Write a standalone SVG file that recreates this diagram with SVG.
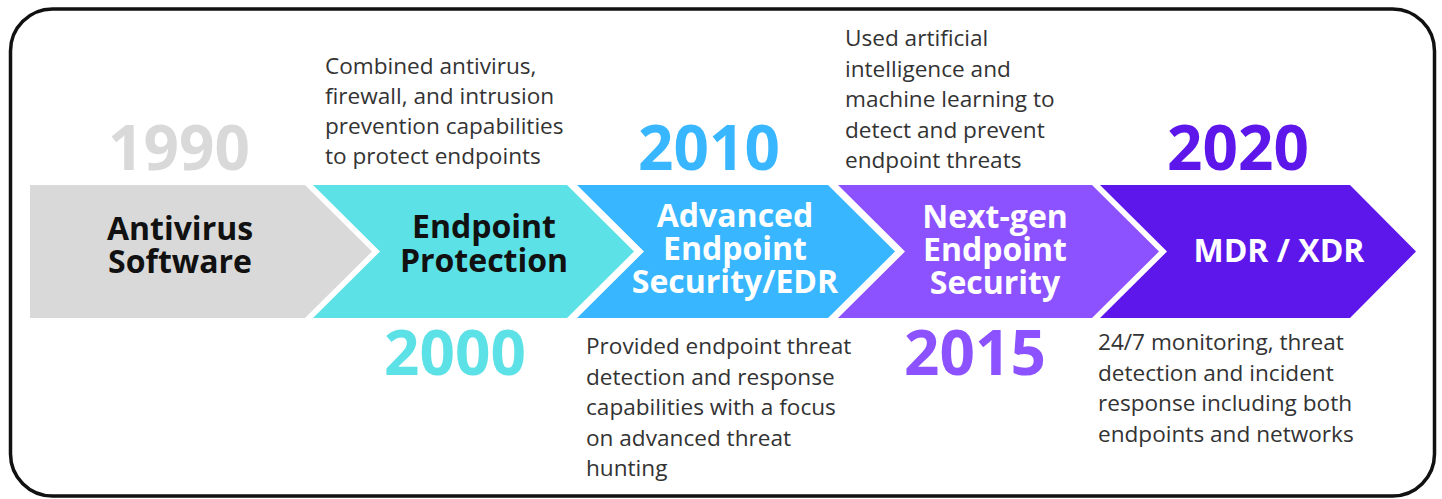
<svg xmlns="http://www.w3.org/2000/svg" width="1442" height="499" viewBox="0 0 1442 499">
<style>
.yr{font-family:"Open Sans","Liberation Sans",sans-serif;font-weight:700;font-size:62px;text-anchor:middle}
.lbl{font-family:"Open Sans","Liberation Sans",sans-serif;font-weight:700;font-size:32px;text-anchor:middle}
.desc{font-family:"Open Sans","Liberation Sans",sans-serif;font-size:22.6px;fill:#333333}
</style>
<rect x="10.5" y="9" width="1424" height="487" rx="42" fill="#ffffff" stroke="#111111" stroke-width="3.5"/>
<g id="connectors"></g>
<g id="stage-1990">
<polygon points="30,185 305,185 372,251.5 305,318 30,318" fill="#d9d9d9"/>
<text class="yr" x="179" y="170" fill="#d9d9d9">1990</text>
<text class="lbl" x="180" y="240" fill="#111111">Antivirus</text>
<text class="lbl" x="180" y="273" fill="#111111">Software</text>
</g>
<g id="stage-2000">
<polygon points="313,185 567,185 634,251.5 567,318 313,318 380,251.5" fill="#5ce1e6"/>
<text class="yr" x="455" y="375" fill="#5ce1e6">2000</text>
<text class="lbl" x="484" y="238" fill="#111111">Endpoint</text>
<text class="lbl" x="484" y="272" fill="#111111">Protection</text>
<text class="desc" x="325" y="74">Combined antivirus,</text>
<text class="desc" x="325" y="104">firewall, and intrusion</text>
<text class="desc" x="325" y="134">prevention capabilities</text>
<text class="desc" x="325" y="164">to protect endpoints</text>
</g>
<g id="stage-2010">
<polygon points="577,185 828,185 895,251.5 828,318 577,318 644,251.5" fill="#38b6ff"/>
<text class="yr" x="709" y="170" fill="#38b6ff">2010</text>
<text class="lbl" x="735" y="227" fill="#ffffff">Advanced</text>
<text class="lbl" x="735" y="260" fill="#ffffff">Endpoint</text>
<text class="lbl" x="735" y="293" fill="#ffffff">Security/EDR</text>
<text class="desc" x="586" y="354">Provided endpoint threat</text>
<text class="desc" x="586" y="385">detection and response</text>
<text class="desc" x="586" y="415">capabilities with a focus</text>
<text class="desc" x="586" y="446">on advanced threat</text>
<text class="desc" x="586" y="476">hunting</text>
</g>
<g id="stage-2015">
<polygon points="838,185 1092,185 1159,251.5 1092,318 838,318 905,251.5" fill="#8c52ff"/>
<text class="yr" x="975" y="375" fill="#8c52ff">2015</text>
<text class="lbl" x="995" y="228" fill="#ffffff">Next-gen</text>
<text class="lbl" x="995" y="261" fill="#ffffff">Endpoint</text>
<text class="lbl" x="995" y="294" fill="#ffffff">Security</text>
<text class="desc" x="845" y="46">Used artificial</text>
<text class="desc" x="845" y="77">intelligence and</text>
<text class="desc" x="845" y="107">machine learning to</text>
<text class="desc" x="845" y="138">detect and prevent</text>
<text class="desc" x="845" y="168">endpoint threats</text>
</g>
<g id="stage-2020">
<polygon points="1100,185 1350,185 1416,251.5 1350,318 1100,318 1167,251.5" fill="#5e17eb"/>
<text class="yr" x="1238" y="170" fill="#5e17eb">2020</text>
<text class="lbl" x="1279" y="262" fill="#ffffff">MDR / XDR</text>
<text class="desc" x="1098" y="350">24/7 monitoring, threat</text>
<text class="desc" x="1098" y="381">detection and incident</text>
<text class="desc" x="1098" y="411">response including both</text>
<text class="desc" x="1098" y="442">endpoints and networks</text>
</g>
</svg>
